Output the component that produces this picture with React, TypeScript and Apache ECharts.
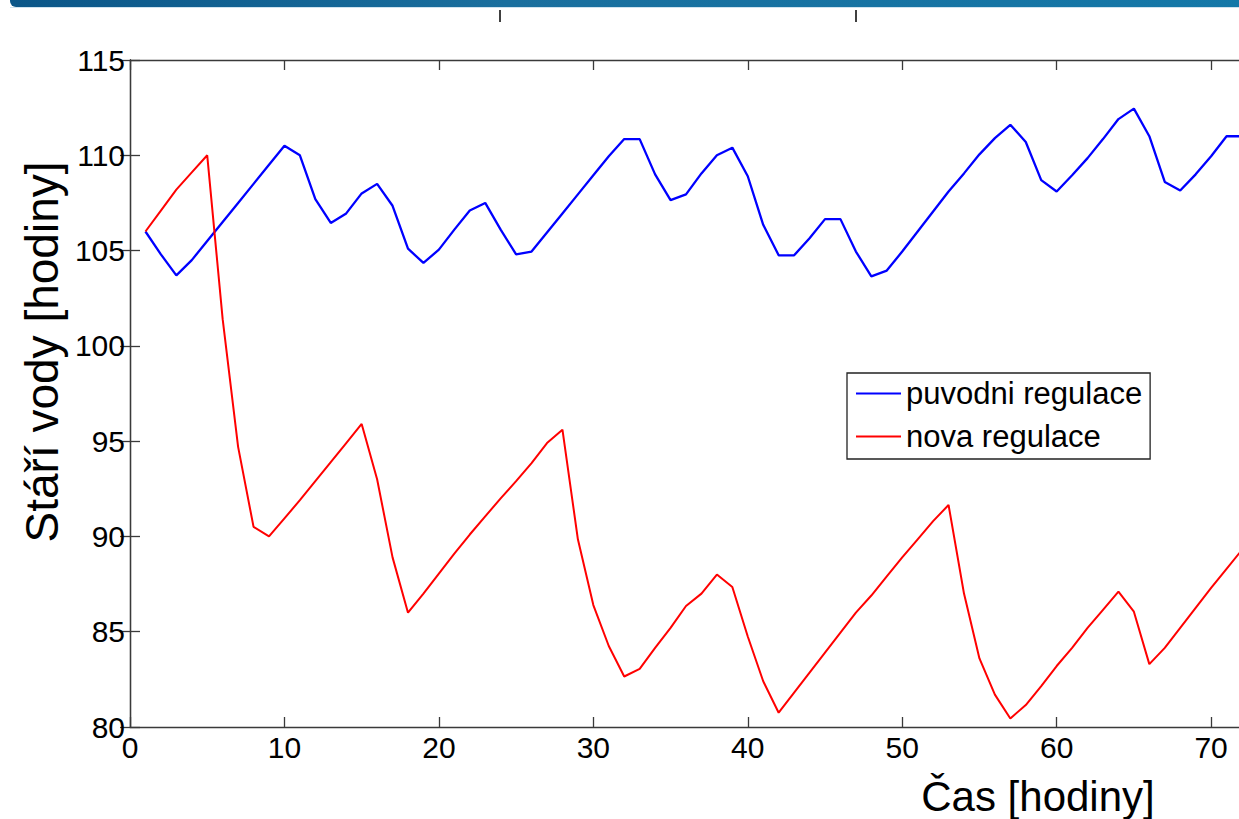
import React, { useEffect, useRef } from "react";
import * as echarts from "echarts";

const hours = [
  1, 2, 3, 4, 5, 6, 7, 8, 9, 10, 11, 12, 13, 14, 15, 16, 17, 18, 19, 20, 21, 22, 23, 24,
  25, 26, 27, 28, 29, 30, 31, 32, 33, 34, 35, 36, 37, 38, 39, 40, 41, 42, 43, 44, 45, 46, 47, 48,
  49, 50, 51, 52, 53, 54, 55, 56, 57, 58, 59, 60, 61, 62, 63, 64, 65, 66, 67, 68, 69, 70, 71, 72,
];

const puvodniRegulace = [
  106.0, 104.8, 103.7, 104.5, 105.5, 106.5, 107.5, 108.5, 109.5, 110.5, 110.0, 107.7,
  106.45, 106.95, 108.0, 108.5, 107.35, 105.1, 104.35, 105.05, 106.1, 107.1, 107.5, 106.1,
  104.8, 104.95, 105.95, 106.95, 107.95, 108.95, 109.95, 110.85, 110.85, 109.0, 107.65, 107.95,
  109.05, 110.0, 110.4, 108.9, 106.35, 104.75, 104.75, 105.65, 106.65, 106.65, 104.95, 103.65,
  103.95, 104.95, 106.0, 107.05, 108.1, 109.05, 110.05, 110.9, 111.6, 110.7, 108.7, 108.1,
  108.95, 109.85, 110.85, 111.9, 112.45, 111.0, 108.6, 108.15, 109.0, 109.95, 111.0, 111.0,
];

const novaRegulace = [
  106.0, 107.1, 108.2, 109.1, 110.0, 101.4, 94.7, 90.5, 90.0, 90.95, 91.9, 92.9,
  93.9, 94.9, 95.9, 93.0, 88.9, 86.0, 87.0, 88.05, 89.1, 90.1, 91.05, 92.0,
  92.9, 93.85, 94.9, 95.6, 89.85, 86.4, 84.25, 82.65, 83.05, 84.15, 85.2, 86.35,
  87.0, 88.0, 87.35, 84.75, 82.4, 80.75, 81.8, 82.85, 83.9, 84.95, 86.0, 86.9,
  87.9, 88.9, 89.85, 90.8, 91.65, 87.0, 83.6, 81.7, 80.45, 81.15, 82.15, 83.2,
  84.15, 85.2, 86.15, 87.1, 86.05, 83.3, 84.15, 85.2, 86.25, 87.3, 88.3, 89.3,
];

const seriesNames = ["puvodni regulace", "nova regulace"];
const xTitle = "Čas [hodiny]";
const yTitle = "Stáří vody [hodiny]";

const FONT = "'Liberation Sans', Arial, Helvetica, sans-serif";

export default function App() {
  const ref = useRef<HTMLDivElement>(null);

  useEffect(() => {
    if (!ref.current) return;
    const chart = echarts.init(ref.current, undefined, { renderer: "svg" });
    const axisLine = { show: true, lineStyle: { color: "#3a3a3a", width: 1.3 } };
    const tick = { show: true, inside: true, length: 10, lineStyle: { color: "#3a3a3a", width: 1.3 } };
    const label = { color: "#000", fontSize: 30, fontFamily: FONT, margin: 5 };

    chart.setOption({
      animation: false,
      backgroundColor: "#ffffff",
      grid: { left: 130, top: 60, right: 18, bottom: 92, containLabel: false },
      xAxis: [
        {
          type: "value",
          position: "bottom",
          min: 0,
          max: 72,
          interval: 10,
          axisLine,
          axisTick: tick,
          axisLabel: { ...label, showMaxLabel: false },
          splitLine: { show: false },
        },
        {
          type: "value",
          position: "top",
          min: 0,
          max: 72,
          interval: 10,
          axisLine,
          axisTick: tick,
          axisLabel: { show: false },
          splitLine: { show: false },
        },
      ],
      yAxis: [
        {
          type: "value",
          position: "left",
          min: 80,
          max: 115,
          interval: 5,
          axisLine,
          axisTick: tick,
          axisLabel: label,
          splitLine: { show: false },
        },
        {
          type: "value",
          position: "right",
          min: 80,
          max: 115,
          interval: 5,
          axisLine,
          axisTick: tick,
          axisLabel: { show: false },
          splitLine: { show: false },
        },
      ],
      legend: {
        left: 847,
        top: 373,
        orient: "vertical",
        data: seriesNames,
        icon: "rect",
        itemWidth: 45,
        itemHeight: 2,
        itemGap: 12,
        padding: [5, 8, 7, 9],
        borderColor: "#222",
        borderWidth: 1.3,
        backgroundColor: "#fff",
        textStyle: { color: "#000", fontSize: 31, fontFamily: FONT, lineHeight: 30 },
      },
      series: [
        {
          name: seriesNames[0],
          type: "line",
          symbol: "none",
          data: hours.map((h, i) => [h, puvodniRegulace[i]]),
          lineStyle: { color: "#0000ff", width: 2.3 },
          itemStyle: { color: "#0000ff" },
        },
        {
          name: seriesNames[1],
          type: "line",
          symbol: "none",
          data: hours.map((h, i) => [h, novaRegulace[i]]),
          lineStyle: { color: "#ff0000", width: 2 },
          itemStyle: { color: "#ff0000" },
        },
      ],
      graphic: [
        {
          type: "rect",
          shape: { x: 10, y: 0, width: 1240, height: 7, r: [0, 0, 0, 6] },
          style: {
            fill: new echarts.graphic.LinearGradient(0, 0, 1, 0, [
              { offset: 0, color: "#0b5688" },
              { offset: 0.4, color: "#1a6f9e" },
              { offset: 1, color: "#1478a8" },
            ]),
          },
        },
        {
          type: "rect",
          shape: { x: 10, y: 7, width: 1240, height: 1 },
          style: { fill: "#cfe3ef" },
        },
        {
          type: "line",
          shape: { x1: 500, y1: 10, x2: 500, y2: 22 },
          style: { stroke: "#000", lineWidth: 1.5 },
        },
        {
          type: "line",
          shape: { x1: 856, y1: 10, x2: 856, y2: 22 },
          style: { stroke: "#000", lineWidth: 1.5 },
        },
        {
          type: "text",
          x: 42,
          y: 352,
          rotation: Math.PI / 2,
          style: {
            text: yTitle,
            fontSize: 46,
            fontFamily: FONT,
            fill: "#000",
            textAlign: "center",
            textVerticalAlign: "middle",
          },
        },
        {
          type: "text",
          x: 1038,
          y: 796,
          style: {
            text: xTitle,
            fontSize: 42,
            fontFamily: FONT,
            fill: "#000",
            textAlign: "center",
            textVerticalAlign: "middle",
          },
        },
      ],
    });

    return () => chart.dispose();
  }, []);

  return (
    <div
      style={{
        position: "fixed",
        left: 0,
        top: 0,
        width: 1239,
        height: 819,
        overflow: "hidden",
        background: "#fff",
      }}
    >
      <div ref={ref} style={{ width: 1260, height: 819 }} />
    </div>
  );
}
